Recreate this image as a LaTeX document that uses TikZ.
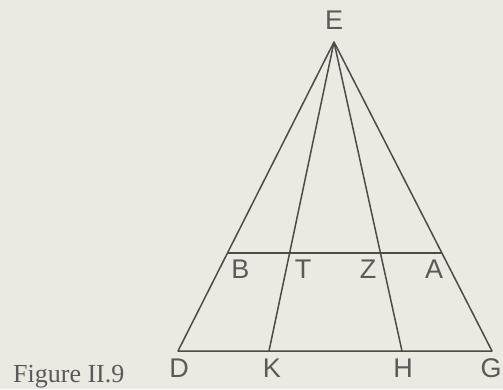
\documentclass[tikz,border=0pt]{standalone}
\usepackage{fontspec}
\usetikzlibrary{calc}
\newfontfamily\lab{Liberation Sans}
\newfontfamily\capfont{Liberation Serif}
\definecolor{paper}{RGB}{236,233,226}
\definecolor{ink}{RGB}{75,75,75}
\definecolor{labink}{RGB}{90,90,90}
\begin{document}
\begin{tikzpicture}[x=1pt,y=-1pt,
  edge/.style={draw=ink,line width=1.5pt,line join=round},
  lbl/.style={text=labink,font=\lab\fontsize{27}{27}\selectfont,inner sep=0pt,anchor=center},
  figcaption/.style={text=labink,font=\capfont\fontsize{26}{26}\selectfont,inner sep=0pt,anchor=base west}]
\fill[paper] (0,0) rectangle (503,389);
\useasboundingbox (0,0) rectangle (503,389);
\coordinate (E) at (334,42);
\coordinate (D) at (178,351);
\coordinate (G) at (492,351);
\coordinate (K) at (269,351);
\coordinate (H) at (402,351);
\coordinate (B) at ($(E)!0.683!(D)$);
\coordinate (A) at ($(E)!0.683!(G)$);
\draw[edge] (E) -- (D) -- (G) -- cycle;
\draw[edge] (E) -- (K);
\draw[edge] (E) -- (H);
\draw[edge] (B) -- (A);
\node[lbl] (lE) at (334,20) {E};
\node[lbl] (lB) at (240.5,269) {B};
\node[lbl] (lT) at (303,269) {T};
\node[lbl] (lZ) at (368,269) {Z};
\node[lbl] (lA) at (434,269) {A};
\node[lbl] (lD) at (179,368) {D};
\node[lbl] (lK) at (272,368) {K};
\node[lbl] (lH) at (403,368) {H};
\node[lbl] (lG) at (491,368) {G};
\node[figcaption] (fig) at (13,382) {Figure II.9};
\end{tikzpicture}
\end{document}
